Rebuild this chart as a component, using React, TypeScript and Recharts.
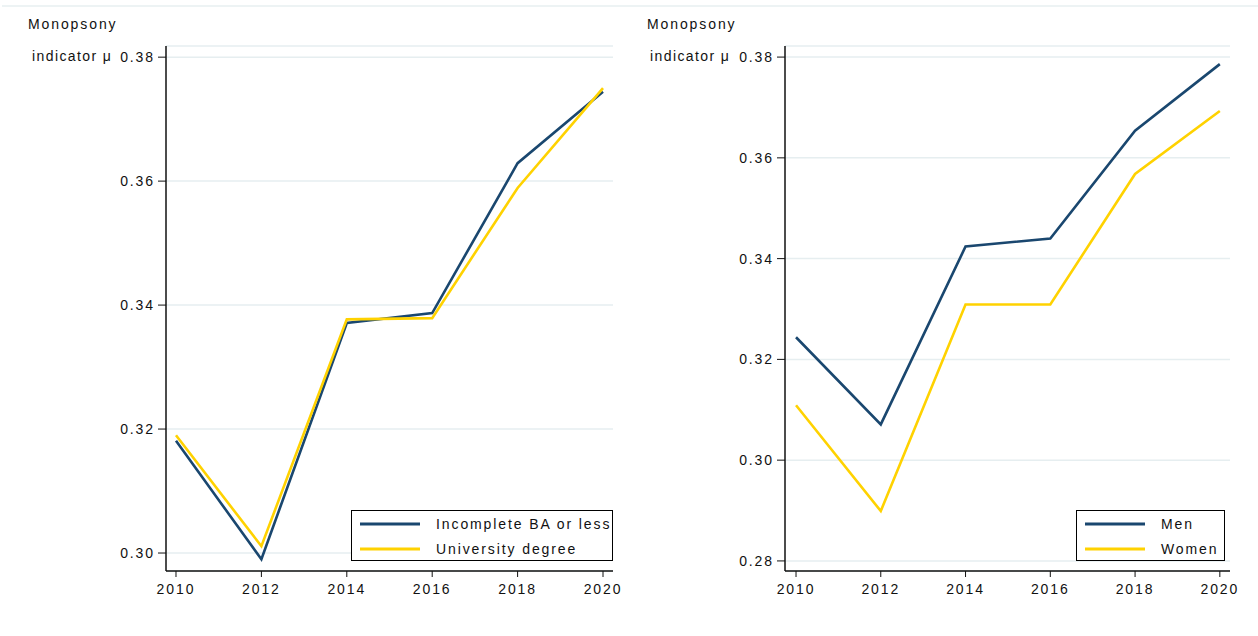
import React from 'react';
import { LineChart, Line, XAxis, YAxis, CartesianGrid, Legend } from 'recharts';

const years = [2010, 2012, 2014, 2016, 2018, 2020];
const incompleteBA = [0.3181, 0.299, 0.3371, 0.3387, 0.3629, 0.3744];
const universityDegree = [0.319, 0.3011, 0.3377, 0.3379, 0.3589, 0.375];
const men = [0.3244, 0.3071, 0.3424, 0.344, 0.3654, 0.3786];
const women = [0.3109, 0.2899, 0.3309, 0.3309, 0.3568, 0.3693];
const leftTicks = [0.3, 0.32, 0.34, 0.36, 0.38];
const rightTicks = [0.28, 0.3, 0.32, 0.34, 0.36, 0.38];
const yearTicks = [2010, 2012, 2014, 2016, 2018, 2020];

const leftData = years.map((y, i) => ({ year: y, a: incompleteBA[i], b: universityDegree[i] }));
const rightData = years.map((y, i) => ({ year: y, a: men[i], b: women[i] }));

const NAVY = '#1a476f';
const GOLD = '#ffd200';
const FONT = 'Liberation Sans, Arial, sans-serif';
const TEXT = '#111';
const tickStyle = { fontSize: 14, fill: TEXT, fontFamily: FONT, letterSpacing: 1.9 };

const LegendBox = (props: any) => {
  const { payload, width } = props;
  return (
    <div style={{ border: '1px solid #000', width, height: 51, boxSizing: 'border-box', background: '#fff', fontFamily: FONT, fontSize: 14, color: TEXT, letterSpacing: 1.9, overflow: 'visible', position: 'relative' }}>
      {(payload || []).map((p: any, i: number) => (
        <div key={i} style={{ position: 'absolute', left: 0, top: i === 0 ? 5 : 30, height: 16, display: 'flex', alignItems: 'center', whiteSpace: 'nowrap' }}>
          <svg width={68} height={16} style={{ display: 'block' }}>
            <line x1={8} x2={68} y1={8} y2={8} stroke={p.color} strokeWidth={3} />
          </svg>
          <span style={{ marginLeft: 16 }}>{p.value}</span>
        </div>
      ))}
    </div>
  );
};

const Panel = ({ data, nameA, nameB, domain, ticks, width, yWidth, right, legendLeft, legendWidth, xDomain }: any) => (
  <LineChart width={width} height={636} data={data} margin={{ top: 46, right, bottom: 35, left: 0 }}>
    <CartesianGrid vertical={false} stroke="#e6eef0" strokeWidth={1.5} />
    <XAxis
      dataKey="year"
      type="number"
      domain={xDomain}
      ticks={yearTicks}
      allowDataOverflow
      height={30}
      tickSize={6}
      tickMargin={7}
      stroke="#111"
      axisLine={{ stroke: '#111', strokeWidth: 1.5 }}
      tickLine={{ stroke: '#111' }}
      tick={tickStyle}
    />
    <YAxis
      type="number"
      domain={domain}
      ticks={ticks}
      allowDataOverflow
      width={yWidth}
      tickSize={8}
      tickMargin={3}
      axisLine={{ stroke: '#111', strokeWidth: 1.5 }}
      tickLine={{ stroke: '#111' }}
      tick={tickStyle}
      tickFormatter={(v: number) => v.toFixed(2)}
    />
    <Legend
      layout="horizontal"
      verticalAlign="middle"
      align="center"
      content={(p: any) => <LegendBox {...p} width={legendWidth} />}
      wrapperStyle={{ left: legendLeft, top: 510, width: legendWidth, height: 52, overflow: 'visible' }}
    />
    <Line type="linear" dataKey="a" name={nameA} stroke={NAVY} strokeWidth={2.6} dot={false} isAnimationActive={false} />
    <Line type="linear" dataKey="b" name={nameB} stroke={GOLD} strokeWidth={2.6} dot={false} isAnimationActive={false} />
  </LineChart>
);

const labelStyle: React.CSSProperties = { position: 'absolute', fontFamily: FONT, fontSize: 14, lineHeight: '16px', color: TEXT, letterSpacing: 1.9, whiteSpace: 'nowrap' };

export default function App() {
  return (
    <div style={{ position: 'absolute', left: 0, top: 0, width: 1258, height: 636, background: '#fff', overflow: 'hidden' }}>
      <div style={{ position: 'absolute', left: 2, top: 5, width: 1256, height: 2, background: '#edf3f4' }} />
      <div style={{ position: 'absolute', left: 0, top: 0 }}>
        <Panel data={leftData} nameA="Incomplete BA or less" nameB="University degree" domain={[0.2971, 0.3818]} ticks={leftTicks} width={640} yWidth={166} right={27} legendLeft={351} legendWidth={262} xDomain={[2009.766, 2020.234]} />
      </div>
      <div style={{ position: 'absolute', left: 620, top: 0 }}>
        <Panel data={rightData} nameA="Men" nameB="Women" domain={[0.278, 0.3822]} ticks={rightTicks} width={638} yWidth={165} right={28} legendLeft={456} legendWidth={149} xDomain={[2009.74, 2020.24]} />
      </div>
      <div style={{ ...labelStyle, left: 28, top: 16 }}>Monopsony</div>
      <div style={{ ...labelStyle, left: 32, top: 48, letterSpacing: 1.4 }}>indicator μ</div>
      <div style={{ ...labelStyle, left: 647, top: 16 }}>Monopsony</div>
      <div style={{ ...labelStyle, left: 650, top: 48, letterSpacing: 1.4 }}>indicator μ</div>
    </div>
  );
}
